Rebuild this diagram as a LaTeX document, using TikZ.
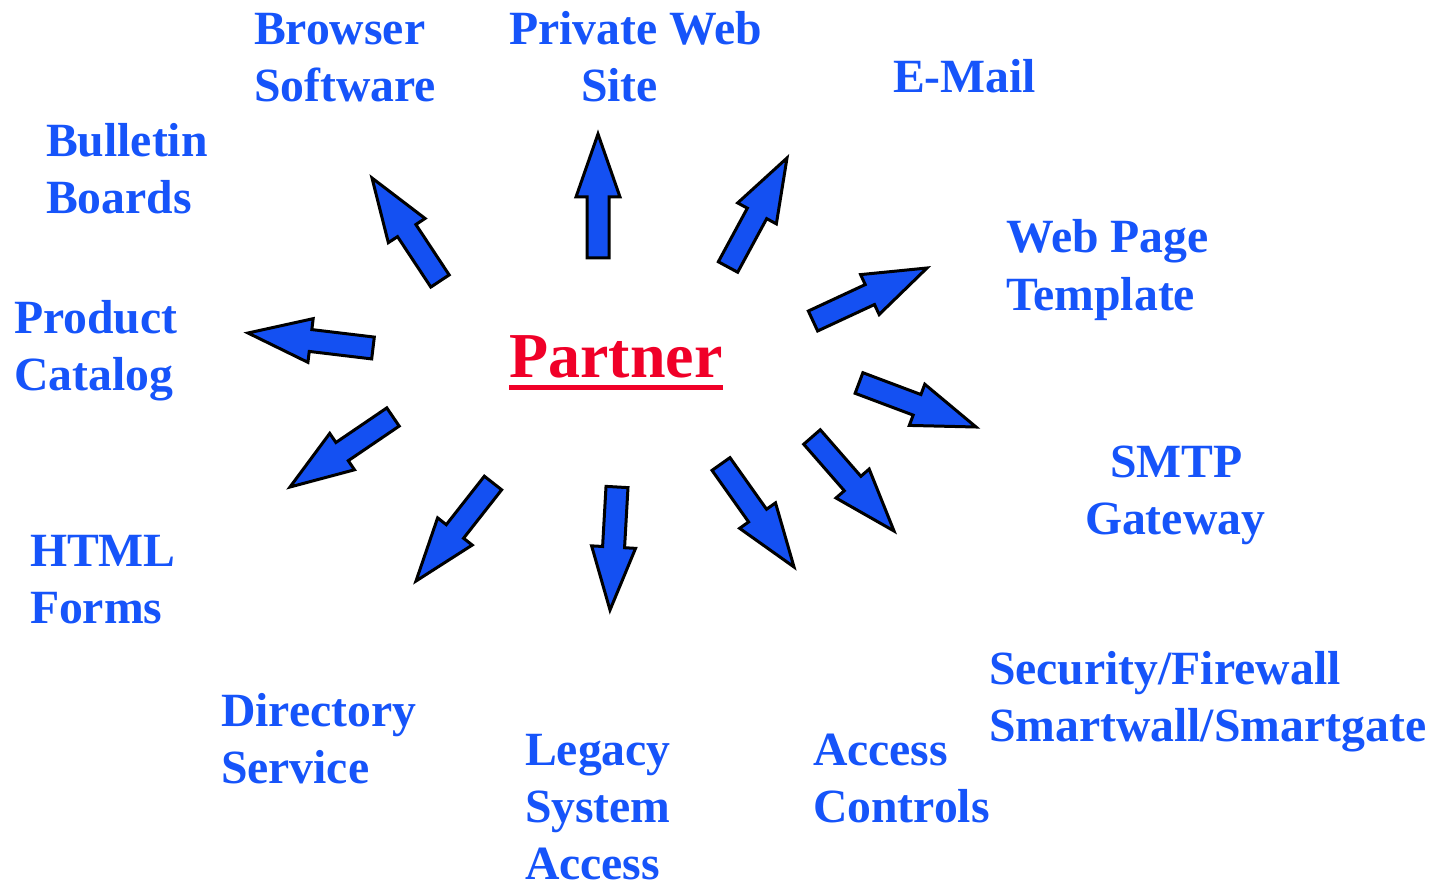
\documentclass[tikz,border=0pt]{standalone}
\usepackage{fontspec}
\setmainfont{Liberation Serif}
\usetikzlibrary{calc}
\definecolor{txtblue}{RGB}{22,84,250}
\definecolor{arrblue}{RGB}{20,80,242}
\definecolor{ptred}{RGB}{240,0,40}
\tikzset{
  lbl/.style={anchor=base west, inner sep=0pt, outer sep=0pt, text=txtblue,
    font=\fontsize{47.7}{57}\selectfont\bfseries},
  blockarr/.style={fill=arrblue, draw=black, line width=3pt, line join=miter, miter limit=10},
}
\newcommand\blockarrow[2]{%
  \coordinate (T) at #1; \coordinate (P) at #2;
  \coordinate (B) at ($(P)!63pt!(T)$);
  \filldraw[blockarr]
    ($(T)!11pt!90:(P)$) -- ($(B)!11pt!-90:(T)$) -- ($(B)!22pt!-90:(T)$) -- (P)
    -- ($(B)!22pt!90:(T)$) -- ($(B)!11pt!90:(T)$) -- ($(T)!11pt!-90:(P)$) -- cycle;
}
\begin{document}
\begin{tikzpicture}[x=1pt,y=-1pt]
\useasboundingbox[fill=white] (0,0) rectangle (1448,885);
% centre
\node[anchor=base west, inner sep=0pt, text=ptred, font=\fontsize{64}{70}\selectfont\bfseries] (partner) at (509,377) {Partner};
\draw[ptred, line width=5pt] (partner.base west) ++(0,10) coordinate (ul1) -- ($(partner.base east)+(0,10)$) coordinate (ul2);
% arrows
\blockarrow{(598,258)}{(598,134)}
\blockarrow{(728,267)}{(787,158)}
\blockarrow{(813,321)}{(927,268)}
\blockarrow{(859,383)}{(976,427)}
\blockarrow{(812,437)}{(894,531)}
\blockarrow{(721,464)}{(794,567)}
\blockarrow{(617,487)}{(610,610)}
\blockarrow{(493,483)}{(416,581)}
\blockarrow{(393,417)}{(290,487)}
\blockarrow{(373,348)}{(248,333)}
\blockarrow{(440,281)}{(372,178)}
% labels
\node[lbl] (bs1) at (254,45) {Browser};
\node[lbl] (bs2) at (254,102) {Software};
\node[lbl] (pw1) at (509,45) {Private Web};
\node[lbl] (pw2) at (581,102) {Site};
\node[lbl] (em) at (893,93) {E-Mail};
\node[lbl] (bb1) at (46,157) {Bulletin};
\node[lbl] (bb2) at (46,214) {Boards};
\node[lbl] (wp1) at (1006,253) {Web Page};
\node[lbl] (wp2) at (1006,310) {Template};
\node[lbl] (pc1) at (14,333) {Product};
\node[lbl] (pc2) at (14,390) {Catalog};
\node[lbl] (sm1) at (1110,477) {SMTP};
\node[lbl] (sm2) at (1085,534) {Gateway};
\node[lbl] (hf1) at (30,566) {HTML};
\node[lbl] (hf2) at (30,623) {Forms};
\node[lbl] (sf1) at (989,684) {Security/Firewall};
\node[lbl] (sf2) at (989,741) {Smartwall/Smartgate};
\node[lbl] (ds1) at (221,726) {Directory};
\node[lbl] (ds2) at (221,783) {Service};
\node[lbl] (ls1) at (525,765) {Legacy};
\node[lbl] (ls2) at (525,822) {System};
\node[lbl] (ls3) at (525,879) {Access};
\node[lbl] (ac1) at (813,765) {Access};
\node[lbl] (ac2) at (813,822) {Controls};
\end{tikzpicture}
\end{document}
